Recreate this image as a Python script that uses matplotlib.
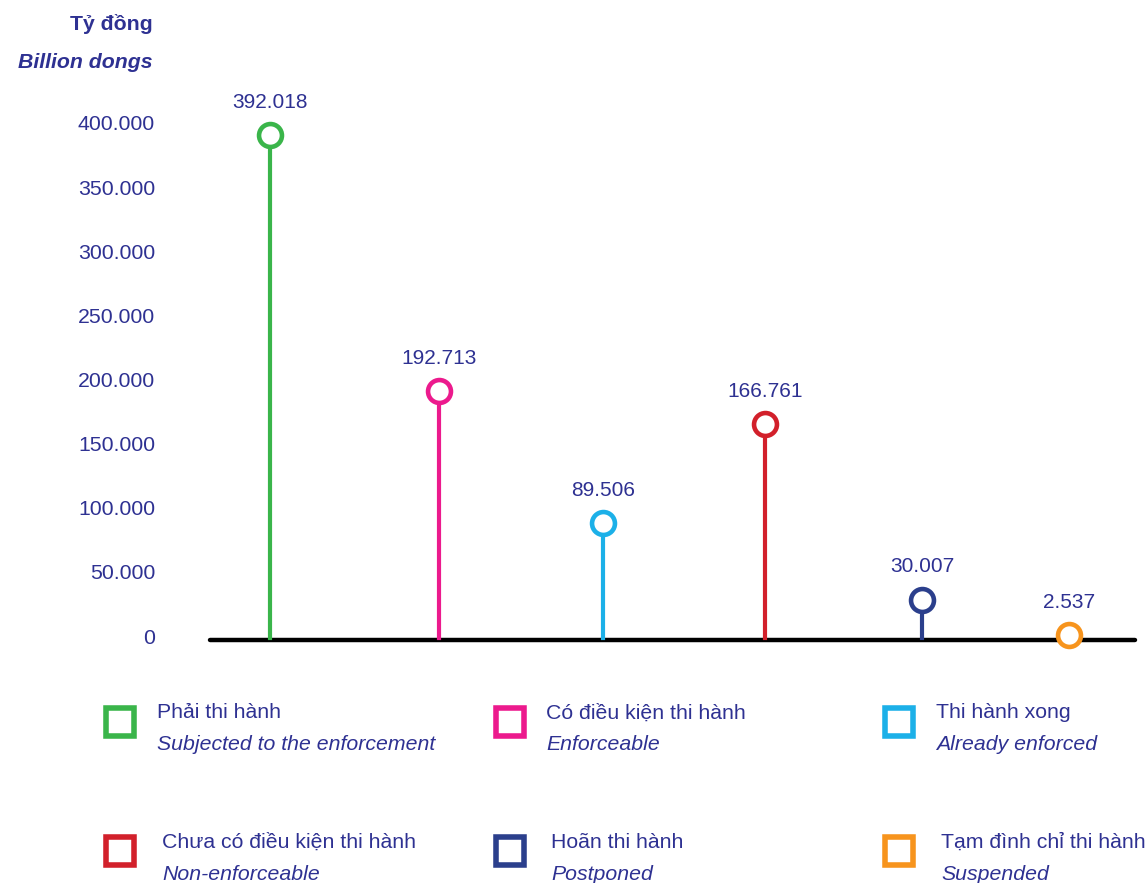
import matplotlib
matplotlib.use("Agg")
import matplotlib.pyplot as plt

plt.rcParams['font.family'] = ['Liberation Sans', 'DejaVu Sans']

# Data: enforcement amounts (billion dongs)
categories_vi = ["Phải thi hành", "Có điều kiện thi hành", "Thi hành xong",
                 "Chưa có điều kiện thi hành", "Hoãn thi hành", "Tạm đình chỉ thi hành"]
categories_en = ["Subjected to the enforcement", "Enforceable", "Already enforced",
                 "Non-enforceable", "Postponed", "Suspended"]
values = [392018, 192713, 89506, 166761, 30007, 2537]
value_labels = ["392.018", "192.713", "89.506", "166.761", "30.007", "2.537"]
yticks = [0, 50000, 100000, 150000, 200000, 250000, 300000, 350000, 400000]
ytick_labels = ["0", "50.000", "100.000", "150.000", "200.000", "250.000",
                "300.000", "350.000", "400.000"]

colors = ["#3ab54a", "#ec1a8d", "#1cb0e8", "#d2202b", "#2b3f8c", "#f7941d"]
text_color = "#2e3192"

# horizontal slot of each stem (relative units)
slot_x = [0, 1, 1.97, 2.93, 3.86, 4.73]

W, H = 1147, 883
fig = plt.figure(figsize=(W / 100, H / 100), dpi=100)

# main stem axes: y=0 at 638px from top, 400.000 at 125px
ax = fig.add_axes([210 / W, (H - 638) / H, (1135 - 210) / W, (638 - 125) / H])
ax.set_xlim(-0.355, 5.12)
ax.set_ylim(0, 400000)
ax.axis("off")

ax.axhline(-1500, color="black", lw=3.2, solid_capstyle="round", clip_on=False)
for x, v, lab, c in zip(slot_x, values, value_labels, colors):
    ax.plot([x, x], [0, v], color=c, lw=3, clip_on=False, zorder=2)
    ax.plot([x], [v], marker="o", ms=16.5, mew=3.3, mfc="white", mec=c,
            clip_on=False, zorder=3)
    ax.annotate(lab, (x, v), xytext=(0, 23.5), textcoords="offset points",
                ha="center", va="center", fontsize=15, color=text_color)

for t, tl in zip(yticks, ytick_labels):
    ax.annotate(tl, (0, t), xycoords=("figure pixels", "data"),
                xytext=(155, 0), textcoords=("figure pixels", "offset points"),
                ha="right", va="center", fontsize=15.3, color=text_color)

# overlay in pixel coordinates for titles and legend
ov = fig.add_axes([0, 0, 1, 1])
ov.set_xlim(0, W)
ov.set_ylim(H, 0)
ov.axis("off")

ov.text(153, 24, "Tỷ đồng", ha="right", va="center", fontsize=15.3,
        fontweight="bold", color=text_color)
ov.text(153, 62, "Billion dongs", ha="right", va="center", fontsize=15.3,
        fontweight="bold", fontstyle="italic", color=text_color)

legend_sq = [(120, 722), (510, 722), (899, 722), (120, 851), (510, 851), (899, 851)]
legend_tx = [157, 546, 936, 162, 551, 941]
for (sx, sy), tx, c, vi, en in zip(legend_sq, legend_tx, colors, categories_vi, categories_en):
    ov.plot([sx], [sy], marker="s", ms=20, mew=4, mfc="white", mec=c)
    ov.text(tx, sy - 9, vi, ha="left", va="center", fontsize=15.3, color=text_color)
    ov.text(tx, sy + 23, en, ha="left", va="center", fontsize=15.3,
            fontstyle="italic", color=text_color)

fig.savefig("out.png", dpi=100)
